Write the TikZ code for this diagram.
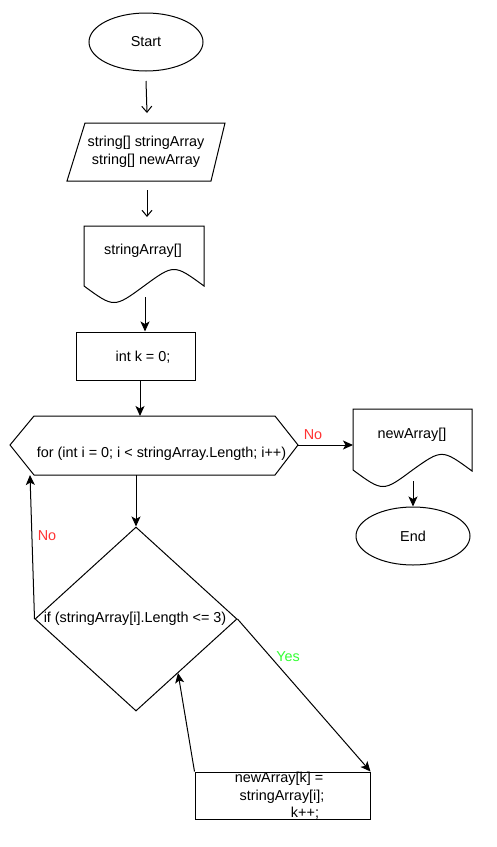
\documentclass[tikz,border=0pt]{standalone}
\usepackage{fontspec}
\setmainfont{Liberation Sans}
\usetikzlibrary{arrows.meta,shapes.geometric}
\definecolor{noRed}{HTML}{FF3333}
\definecolor{yesGreen}{HTML}{33FF33}
\begin{document}
\begin{tikzpicture}[x=1pt,y=-1pt,line width=1pt,
  txt/.style={font=\fontsize{14.4}{18}\selectfont, inner sep=0pt, align=center},
  lbl/.style={font=\fontsize{14.4}{18}\selectfont, inner sep=0pt},
  flow/.style={-{Stealth[length=10pt,width=9pt,inset=2.5pt]}},
  openflow/.style={-{Straight Barb[length=6pt,width=10pt]}},
  termbox/.style={ellipse, draw, minimum width=114pt, minimum height=58pt, inner sep=0pt, font=\fontsize{14.4}{18}\selectfont},
  procbox/.style={rectangle, draw, inner sep=0pt},
]
\useasboundingbox (0,0) rectangle (496,847);

% Start
\node[termbox] (start) at (146,42) {Start};

% parallelogram
\draw (85,123) -- (225,123) -- (211,181) -- (67,181) -- cycle;
\node[txt] (par) at (146,152) {string[] stringArray\\string[] newArray};

% document stringArray[]
\coordinate (d1Bot) at (145,297);
\draw (84,286) -- (84,226) -- (204,226) -- (204,286)
  .. controls (174,264) .. (144,286)
  .. controls (114,308) .. (84,286);
\node[txt] (doc1) at (143,251) {stringArray[]};

% int k = 0
\node[procbox, minimum width=119pt, minimum height=48pt] (kbox) at (135.5,356) {};
\node[txt] (ktxt) at (143,357) {int k = 0;};

% hexagon
\coordinate (hTop) at (140,416);
\coordinate (hBot) at (136,475);
\coordinate (hRight) at (298,445);
\coordinate (hLeftLow) at (30,475);
\draw (10,445) -- (34,416) -- (275,416) -- (298,445) -- (275,475) -- (34,475) -- cycle;
\node[txt] (hex) at (161.5,454) {for (int i = 0; i < stringArray.Length; i++)};

% document newArray[]
\coordinate (d2Left) at (353,445);
\coordinate (d2Bot) at (413,481);
\draw (353,470) -- (353,409) -- (472,409) -- (472,471)
  .. controls (442,449) .. (412.5,470)
  .. controls (383,492) .. (353,470);
\node[txt] (doc2) at (412,435) {newArray[]};

% End
\node[termbox] (end) at (413,536) {End};

% diamond
\node[diamond, draw, minimum width=202pt, minimum height=184pt, inner sep=0pt] (dia) at (136,619) {};
\node[txt] (diatxt) at (135,619) {if (stringArray[i].Length <= 3)};
\coordinate (diaLR) at (178,673);

% bottom rectangle
\node[procbox, minimum width=175pt, minimum height=47pt] (abox) at (282.5,795.5) {};
\node[txt, font=\fontsize{14.4}{17.5}\selectfont] (atxt) at (279,796) {newArray[k] =\\\hspace*{6pt}stringArray[i];\\\hspace*{52pt}k++;};

% connectors
\coordinate (s0) at (146,81);
\coordinate (s1) at (147,113);
\coordinate (s2) at (147,190);
\coordinate (s3) at (147,217);
\draw[openflow] (s0) -- (s1);
\draw[openflow] (s2) -- (s3);
\draw[flow] (d1Bot) -- (kbox.north -| d1Bot);
\draw[flow] (kbox.south -| hTop) -- (hTop);
\draw[flow] (hRight) -- (d2Left);
\node[lbl, text=noRed] (noLab1) at (313,435) {No};
\draw[flow] (d2Bot) -- (end.north);
\draw[flow] (hBot) -- (dia.north);
\draw[flow] (dia.west) -- (hLeftLow);
\node[lbl, text=noRed] (noLab2) at (47,536) {No};
\draw[flow] (dia.east) -- (abox.north east);
\node[lbl, text=yesGreen] (yesLab) at (288,657) {Yes};
\draw[flow] (abox.north west) -- (diaLR);
\end{tikzpicture}
\end{document}
